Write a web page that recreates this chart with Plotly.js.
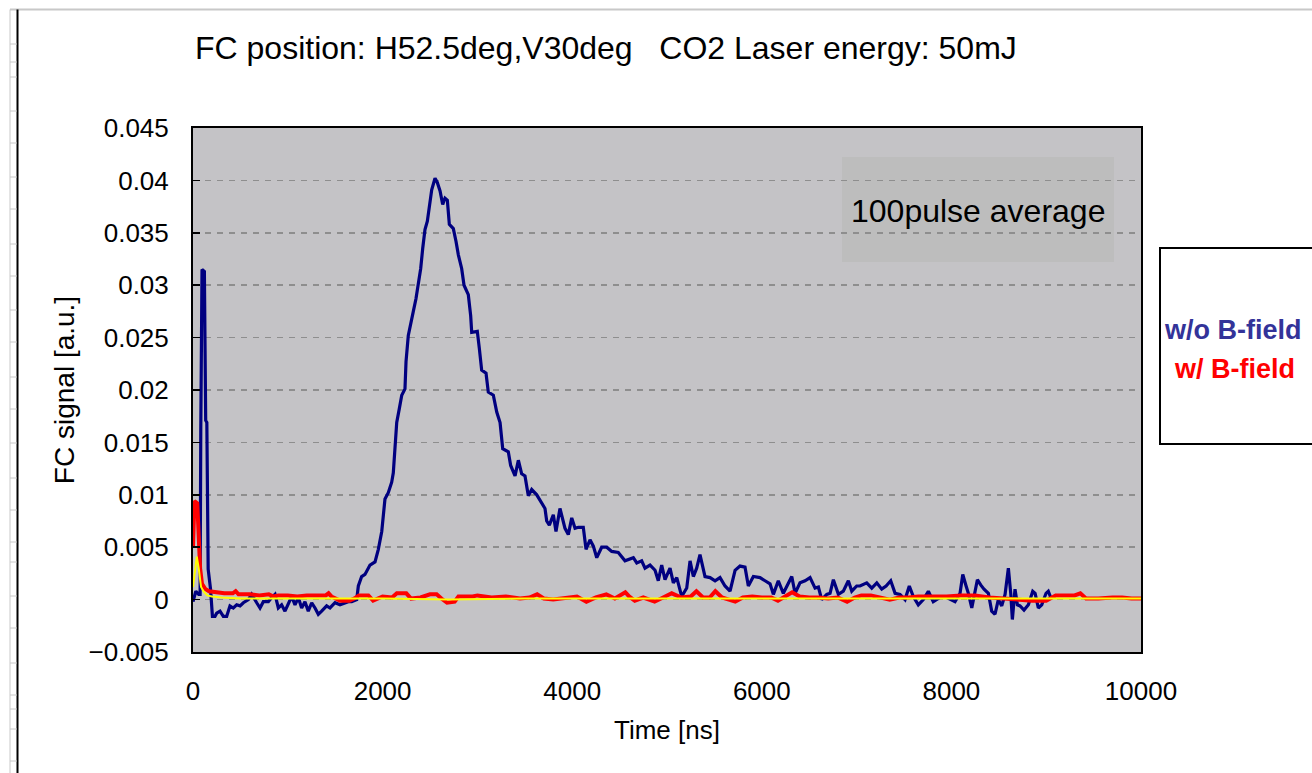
<!DOCTYPE html>
<html>
<head>
<meta charset="utf-8">
<script src="https://cdn.plot.ly/plotly-3.0.1.min.js"></script>
<style>
html,body{margin:0;padding:0;background:#fff;}
#chart{width:1312px;height:773px;}
</style>
</head>
<body>
<div id="chart"></div>
<script>
// ---- data (Time [ns], FC signal [a.u.]) ----
const blueTime = [0,30,60,75,82,95,120,134,146,160,185,205,232,250,285,320,355,390,425,461,496,531,584,619,672,707,742,795,830,865,900,935,970,1006,1041,1076,1111,1146,1181,1216,1252,1287,1322,1357,1410,1445,1498,1551,1603,1638,1674,1727,1744,1779,1814,1867,1920,1955,1991,2007,2025,2060,2096,2113,2131,2149,2176,2202,2236,2247,2271,2297,2324,2352,2377,2402,2423,2447,2472,2493,2518,2553,2577,2606,2634,2658,2683,2704,2746,2774,2799,2834,2859,2904,2929,2940,2999,3020,3045,3091,3115,3168,3204,3239,3267,3326,3351,3397,3432,3467,3502,3537,3573,3626,3678,3713,3731,3759,3801,3829,3871,3900,3924,3959,3995,4030,4065,4117,4146,4188,4223,4259,4311,4364,4417,4486,4557,4645,4681,4733,4768,4821,4874,4908,4944,4979,5032,5067,5103,5155,5208,5243,5278,5313,5348,5401,5454,5507,5559,5612,5665,5718,5770,5823,5858,5911,5981,6034,6087,6122,6174,6227,6280,6316,6351,6403,6456,6509,6562,6597,6632,6685,6720,6755,6808,6860,6913,6949,7001,7036,7107,7160,7213,7265,7311,7360,7406,7458,7511,7556,7598,7651,7704,7757,7809,7880,7951,8038,8091,8120,8155,8179,8215,8249,8274,8309,8344,8390,8425,8460,8495,8531,8566,8601,8626,8643,8671,8696,8724,8766,8812,8858,8883,8917,8953,8998,9022,9048];
const blueSignal = [-0.0002,0.0008,0.0005,0.0005,0.0160,0.0315,0.0313,0.0171,0.0169,0.0029,0.0010,-0.0016,-0.0016,-0.0013,-0.0011,-0.0016,-0.0016,-0.0006,-0.0008,-0.0005,-0.0006,-0.0003,0.0000,0.0005,-0.0003,-0.0008,-0.0002,-0.0002,0.0002,0.0005,-0.0008,-0.0005,-0.0011,-0.0003,0.0003,-0.0005,0.0002,-0.0008,-0.0002,-0.0011,-0.0003,-0.0008,-0.0014,-0.0011,-0.0006,-0.0008,-0.0003,-0.0005,-0.0003,-0.0002,-0.0002,0.0000,0.0013,0.0022,0.0024,0.0033,0.0036,0.0048,0.0065,0.0080,0.0096,0.0102,0.0112,0.0121,0.0147,0.0169,0.0182,0.0195,0.0201,0.0227,0.0252,0.0262,0.0275,0.0287,0.0303,0.0316,0.0335,0.0353,0.0361,0.0377,0.0391,0.0402,0.0398,0.0390,0.0377,0.0383,0.0381,0.0358,0.0354,0.0342,0.0329,0.0316,0.0300,0.0291,0.0271,0.0255,0.0256,0.0240,0.0219,0.0216,0.0198,0.0195,0.0179,0.0169,0.0144,0.0141,0.0128,0.0118,0.0133,0.0120,0.0118,0.0099,0.0105,0.0100,0.0093,0.0087,0.0075,0.0071,0.0081,0.0065,0.0087,0.0075,0.0068,0.0062,0.0078,0.0068,0.0069,0.0069,0.0048,0.0057,0.0051,0.0040,0.0050,0.0050,0.0046,0.0045,0.0037,0.0040,0.0035,0.0037,0.0030,0.0033,0.0028,0.0018,0.0033,0.0019,0.0030,0.0016,0.0021,0.0003,0.0011,0.0037,0.0022,0.0030,0.0043,0.0022,0.0021,0.0018,0.0021,0.0013,0.0008,0.0028,0.0032,0.0031,0.0013,0.0022,0.0021,0.0018,0.0015,0.0005,0.0018,0.0006,0.0015,0.0022,0.0006,0.0016,0.0018,0.0021,0.0011,0.0012,0.0000,0.0005,0.0006,0.0019,0.0005,0.0008,0.0018,0.0008,0.0013,0.0013,0.0016,0.0011,0.0016,0.0010,0.0013,0.0018,0.0006,0.0005,0.0000,0.0013,0.0003,-0.0005,0.0000,0.0008,-0.0002,0.0002,0.0002,-0.0002,0.0006,0.0024,0.0013,0.0006,-0.0008,0.0006,0.0019,0.0014,0.0010,0.0006,-0.0011,-0.0014,0.0000,-0.0006,0.0005,0.0030,0.0006,-0.0019,0.0010,-0.0005,-0.0006,-0.0010,-0.0005,0.0008,0.0006,-0.0008,-0.0005,0.0006,0.0008,0.0002];

const redTime = [0,15,45,60,75,95,130,170,250,330,420,450,480,600,700,800,850,900,1000,1100,1200,1300,1400,1430,1460,1550,1650,1700,1750,1850,1900,2000,2100,2150,2250,2300,2400,2500,2570,2620,2680,2760,2800,2950,3000,3150,3300,3450,3550,3630,3700,3800,3950,4050,4150,4250,4360,4450,4560,4600,4660,4750,4870,4950,5050,5150,5250,5310,5380,5450,5510,5580,5720,5800,5900,6000,6100,6170,6250,6320,6400,6500,6600,6700,6800,6900,6980,7050,7150,7250,7350,7450,7550,7650,7800,7950,8100,8250,8400,8550,8700,8850,9000,9100,9300,9360,9420,9550,9700,9800,9900,10000];
const redSignal = [0.0050,0.0094,0.0092,0.0060,0.0030,0.0015,0.0010,0.0008,0.0007,0.0006,0.0006,0.0008,0.0005,0.0005,0.0004,0.0005,0.0003,0.0004,0.0004,0.0003,0.0004,0.0004,0.0004,0.0006,0.0003,-0.0001,-0.0001,0.0001,0.0004,0.0004,-0.0001,0.0003,0.0002,0.0006,0.0006,0.0001,0.0002,0.0005,0.0005,0.0001,-0.0003,-0.0002,0.0003,0.0003,0.0004,0.0002,0.0003,0.0001,0.0002,0.0005,0.0001,0.0000,0.0002,0.0003,-0.0002,0.0002,0.0005,0.0001,0.0007,0.0003,-0.0001,0.0002,-0.0002,0.0002,0.0006,0.0002,0.0003,0.0008,0.0002,0.0002,0.0008,0.0002,-0.0002,0.0002,0.0003,0.0002,0.0002,-0.0001,0.0003,0.0007,0.0003,0.0002,0.0002,0.0001,0.0002,-0.0002,0.0002,0.0004,0.0004,0.0002,0.0000,0.0002,0.0002,0.0003,0.0003,0.0003,0.0004,0.0004,0.0002,0.0001,0.0000,-0.0001,-0.0001,0.0004,0.0004,0.0006,0.0001,0.0001,0.0002,0.0002,0.0001,0.0001];

const yellowTime = [0,20,40,60,85,110,150,200,300,500,1000,1500,2000,2700,3500,4500,5500,6500,7500,8500,9500,10000];
const yellowSignal = [0.0012,0.0025,0.0041,0.0030,0.0012,0.0008,0.0004,0.0003,0.0002,0.0001,0.0001,0.0001,0.0001,0.0000,0.0001,0.0001,0.0001,0.0001,0.0001,0.0001,0.0001,0.0001];

const xTickVals = [0,2000,4000,6000,8000,10000];
const xTickText = ['0','2000','4000','6000','8000','10000'];
const yTickVals = [-0.005,0,0.005,0.01,0.015,0.02,0.025,0.03,0.035,0.04,0.045];
const yTickText = ['\u22120.005','0','0.005','0.01','0.015','0.02','0.025','0.03','0.035','0.04','0.045'];

const titleText = 'FC position: H52.5deg,V30deg \u00a0 CO2 Laser energy: 50mJ';
const boxText = '100pulse average';
const legendLabels = ['w/o B-field','w/ B-field'];
const xTitle = 'Time [ns]';
const yTitle = 'FC signal [a.u.]';

// ---- geometry helpers (pixel -> paper) ----
const L = 193, R = 1141, T = 128, B = 652;
const px = x => (x - L) / (R - L);
const py = y => (B - y) / (B - T);

const traces = [
  {x: blueTime, y: blueSignal, name: legendLabels[0], type: 'scatter', mode: 'lines',
   line: {color: '#000080', width: 3.2}},
  {x: redTime, y: redSignal, name: legendLabels[1], type: 'scatter', mode: 'lines',
   line: {color: '#FF0000', width: 4}},
  {x: yellowTime, y: yellowSignal, name: 'reference', type: 'scatter', mode: 'lines',
   line: {color: '#FFFF00', width: 2}}
];

const rulerY = [44,62,77,111,143,177,209,244,276,310,342,377,409,443,478,510,542,562,596,628,663,695,709,729,761];
const shapes = [
  {type:'rect', xref:'paper', yref:'paper', x0:px(842), x1:px(1114), y0:py(262), y1:py(157),
   fillcolor:'#BDBDBD', line:{width:0}, layer:'below'},
  {type:'rect', xref:'paper', yref:'paper', x0:px(1160), x1:px(1330), y0:py(444), y1:py(248),
   fillcolor:'#FFFFFF', line:{color:'#000000', width:2}},
  {type:'line', xref:'paper', yref:'paper', x0:px(10), x1:px(1312), y0:py(9.5), y1:py(9.5),
   line:{color:'#C8C8C8', width:2}},
  {type:'line', xref:'paper', yref:'paper', x0:px(10), x1:px(10), y0:py(9.5), y1:py(773),
   line:{color:'#C8C8C8', width:1}},
  {type:'line', xref:'paper', yref:'paper', x0:px(17.5), x1:px(17.5), y0:py(9.5), y1:py(773),
   line:{color:'#000000', width:2}}
];
rulerY.forEach(v => shapes.push({type:'line', xref:'paper', yref:'paper', x0:px(10), x1:px(17), y0:py(v), y1:py(v),
   line:{color:'#C8C8C8', width:1}}));

const layout = {
  width: 1312, height: 773,
  margin: {l: L, r: 1312 - R, t: T, b: 773 - B, pad: 0},
  paper_bgcolor: '#FFFFFF',
  plot_bgcolor: '#C4C3C6',
  showlegend: false,
  font: {family: 'Liberation Sans, Arial, sans-serif', color: '#000000'},
  xaxis: {
    range: [0, 10000], tickvals: xTickVals, ticktext: xTickText,
    showgrid: false, zeroline: false, ticks: '',
    showline: true, mirror: true, linecolor: '#000000', linewidth: 2,
    tickfont: {size: 26, color: '#000000'}, ticklabelstandoff: 15,
    title: {text: xTitle, font: {size: 26}, standoff: 16}
  },
  yaxis: {
    range: [-0.005, 0.045], tickvals: yTickVals, ticktext: yTickText,
    showgrid: true, gridcolor: '#8E8E8E', gridwidth: 1.5, griddash: '6px,6px',
    zeroline: false, ticks: 'inside', ticklen: 7, tickwidth: 1.5, tickcolor: '#000000',
    showline: true, mirror: true, linecolor: '#000000', linewidth: 2,
    tickfont: {size: 26, color: '#000000'}, ticklabelstandoff: 17,
    title: {text: yTitle, font: {size: 28}, standoff: 6}
  },
  shapes: shapes,
  annotations: [
    {text: titleText, xref:'paper', yref:'paper', x: px(193), y: py(48), xanchor:'left', yanchor:'middle',
     showarrow:false, font:{size: 32, color:'#000000', family:'Liberation Sans, Arial, sans-serif'}},
    {text: boxText, xref:'paper', yref:'paper', x: px(978), y: py(211), xanchor:'center', yanchor:'middle',
     showarrow:false, font:{size: 32, color:'#000000', family:'Liberation Sans, Arial, sans-serif'}},
    {text: '<b>' + legendLabels[0] + '</b>', xref:'paper', yref:'paper', x: px(1162), y: py(330), xanchor:'left', yanchor:'middle',
     showarrow:false, font:{size: 27, color:'#333399', family:'Liberation Sans, Arial, sans-serif'}},
    {text: '<b>' + legendLabels[1] + '</b>', xref:'paper', yref:'paper', x: px(1172), y: py(369), xanchor:'left', yanchor:'middle',
     showarrow:false, font:{size: 27, color:'#FF0000', family:'Liberation Sans, Arial, sans-serif'}}
  ]
};

Plotly.newPlot('chart', traces, layout, {staticPlot: true, displayModeBar: false});
</script>
</body>
</html>
